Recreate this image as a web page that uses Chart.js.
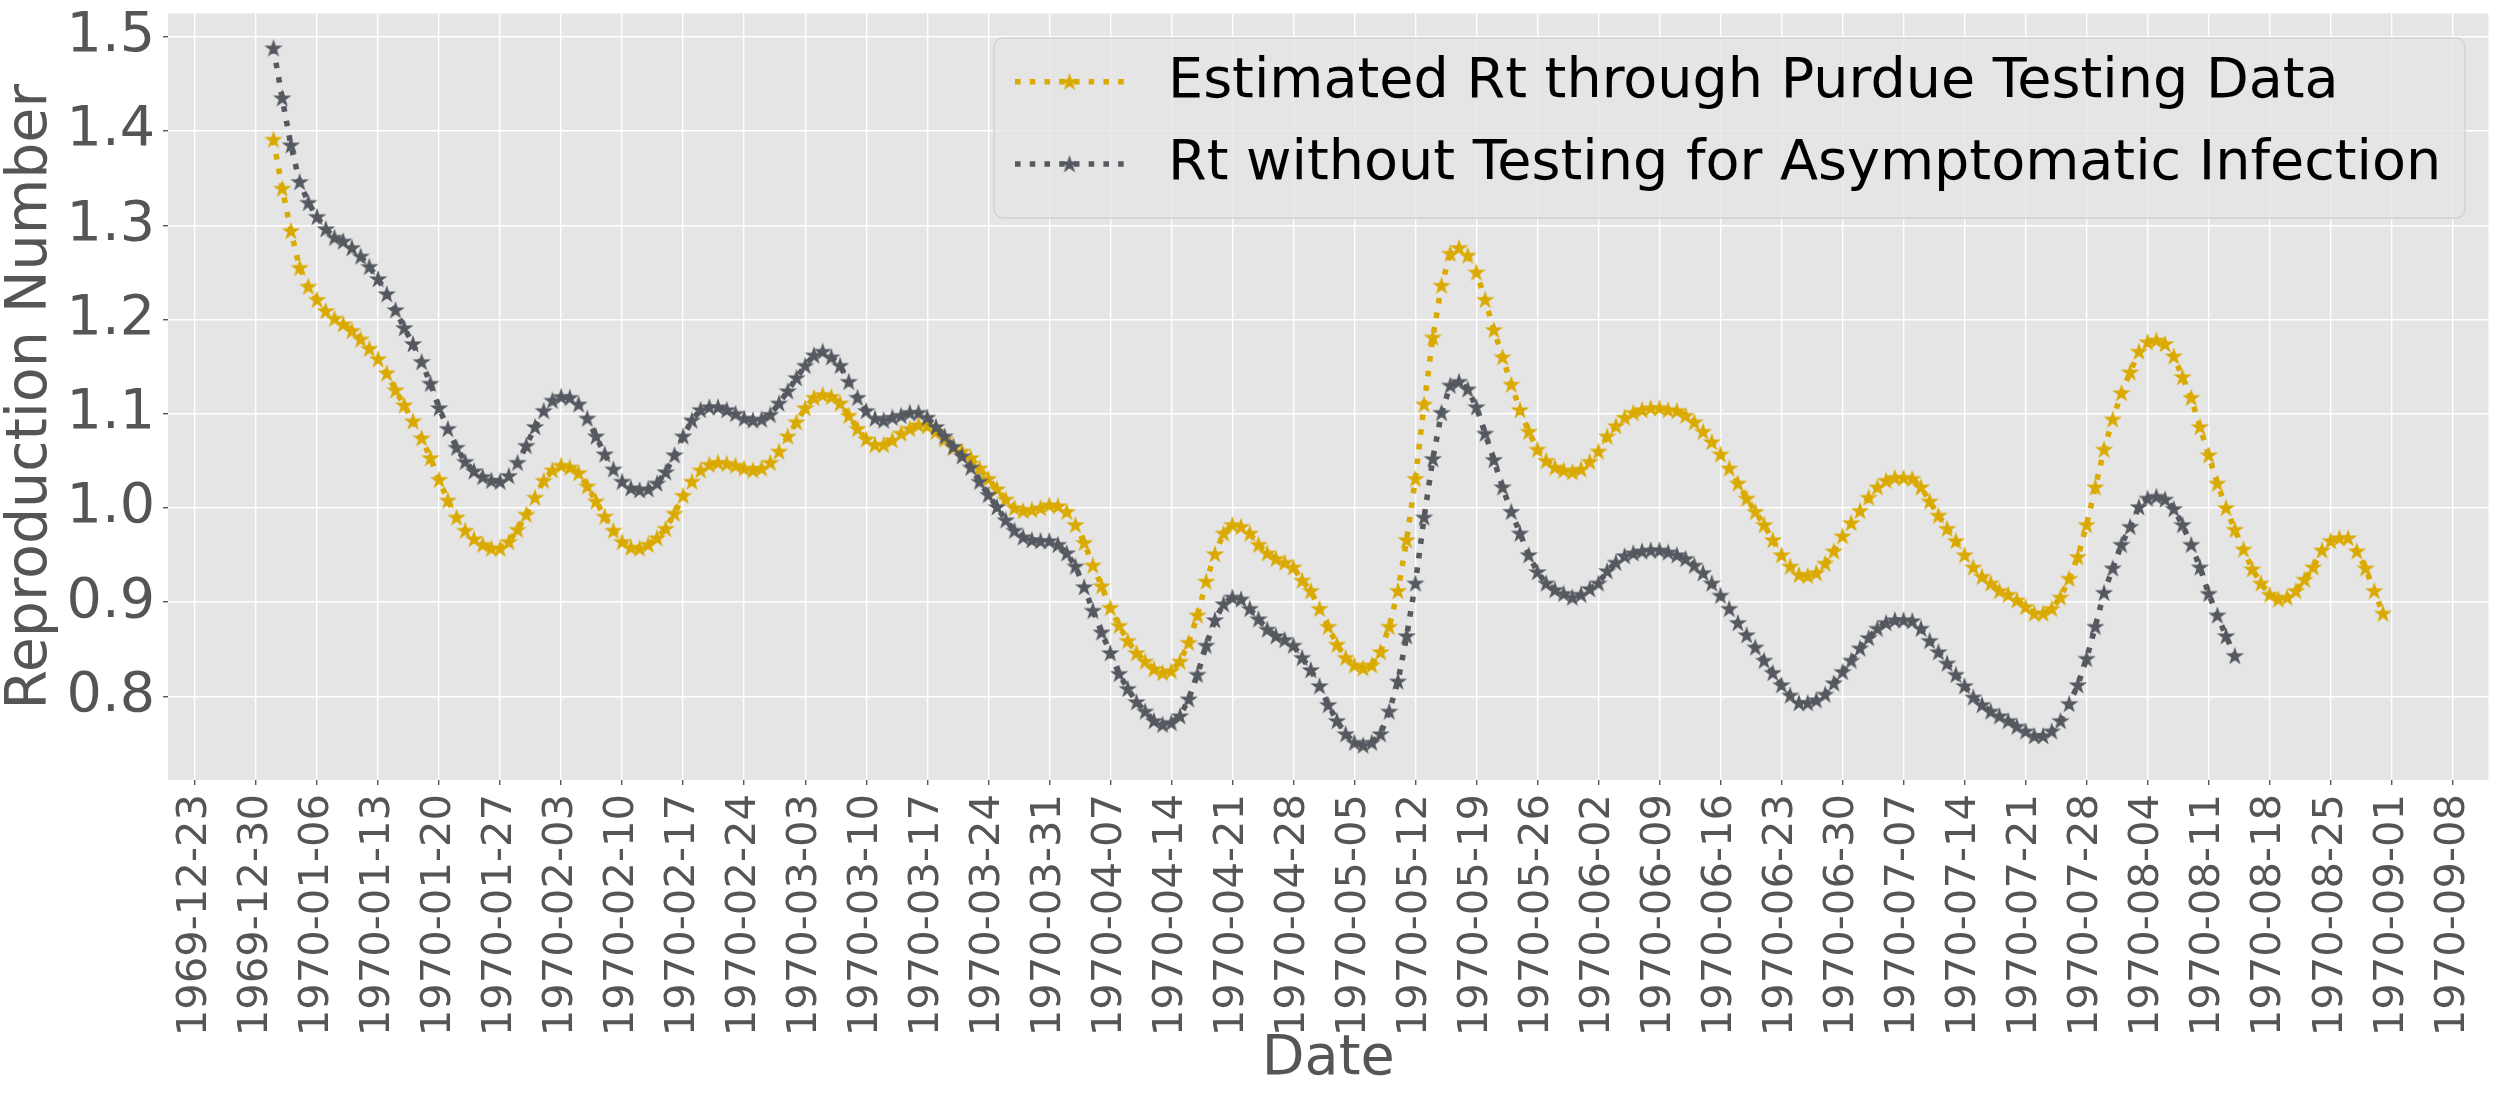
<!DOCTYPE html>
<html>
<head>
<meta charset="utf-8">
<script src="https://cdn.jsdelivr.net/npm/chart.js@4.4.1/dist/chart.umd.min.js"></script>
<style>
  html, body { margin: 0; padding: 0; background: #ffffff; }
  #wrap { width: 2502px; height: 1101px; }
</style>
</head>
<body>
<div id="wrap"><canvas id="c" width="2502" height="1101" style="width:2502px;height:1101px"></canvas></div>
<script>
// ---- data (day index 0 = 1970-01-01) ----
const startDate = '1970-01-01';

const seriesNames = [
  'Estimated Rt through Purdue Testing Data',
  'Rt without Testing for Asymptomatic Infection'
];

const purdueRt = [
  1.391, 1.339, 1.294, 1.255, 1.235, 1.221, 1.209, 1.201, 1.195, 1.188,
  1.179, 1.169, 1.158, 1.143, 1.125, 1.109, 1.092, 1.074, 1.053, 1.030,
  1.008, 0.990, 0.976, 0.967, 0.961, 0.957, 0.957, 0.964, 0.977, 0.993,
  1.011, 1.029, 1.040, 1.045, 1.043, 1.037, 1.023, 1.007, 0.991, 0.976,
  0.964, 0.958, 0.957, 0.961, 0.968, 0.978, 0.994, 1.013, 1.028, 1.040,
  1.046, 1.048, 1.047, 1.045, 1.042, 1.040, 1.042, 1.048, 1.060, 1.076,
  1.091, 1.106, 1.117, 1.120, 1.118, 1.111, 1.098, 1.084, 1.073, 1.067,
  1.067, 1.072, 1.079, 1.084, 1.088, 1.087, 1.081, 1.073, 1.064, 1.060,
  1.053, 1.042, 1.031, 1.020, 1.009, 1.000, 0.997, 0.998, 1.000, 1.003,
  1.002, 0.996, 0.982, 0.963, 0.939, 0.917, 0.894, 0.875, 0.859, 0.846,
  0.837, 0.829, 0.825, 0.827, 0.837, 0.857, 0.886, 0.922, 0.951, 0.973,
  0.982, 0.980, 0.973, 0.961, 0.952, 0.946, 0.942, 0.937, 0.923, 0.912,
  0.893, 0.874, 0.855, 0.841, 0.833, 0.830, 0.833, 0.847, 0.874, 0.912,
  0.966, 1.031, 1.110, 1.181, 1.236, 1.270, 1.276, 1.268, 1.250, 1.221,
  1.189, 1.160, 1.131, 1.104, 1.081, 1.062, 1.050, 1.043, 1.040, 1.038,
  1.041, 1.049, 1.060, 1.076, 1.087, 1.096, 1.101, 1.104, 1.106, 1.106,
  1.104, 1.103, 1.098, 1.091, 1.081, 1.070, 1.057, 1.042, 1.026, 1.010,
  0.996, 0.982, 0.966, 0.950, 0.938, 0.929, 0.928, 0.931, 0.941, 0.954,
  0.970, 0.984, 0.997, 1.011, 1.022, 1.029, 1.032, 1.032, 1.031, 1.022,
  1.007, 0.992, 0.978, 0.965, 0.950, 0.937, 0.927, 0.920, 0.912, 0.908,
  0.902, 0.895, 0.888, 0.888, 0.893, 0.905, 0.925, 0.948, 0.982, 1.022,
  1.062, 1.094, 1.122, 1.144, 1.166, 1.176, 1.178, 1.174, 1.161, 1.139,
  1.117, 1.086, 1.056, 1.026, 1.000, 0.977, 0.956, 0.935, 0.920, 0.908,
  0.903, 0.905, 0.912, 0.924, 0.937, 0.955, 0.965, 0.968, 0.968, 0.954,
  0.936, 0.912, 0.888
];

const noTestingRt = [
  1.488, 1.435, 1.385, 1.346, 1.324, 1.309, 1.296, 1.287, 1.283, 1.276,
  1.267, 1.256, 1.243, 1.227, 1.210, 1.191, 1.174, 1.155, 1.132, 1.106,
  1.084, 1.064, 1.049, 1.039, 1.033, 1.029, 1.028, 1.034, 1.048, 1.066,
  1.086, 1.103, 1.114, 1.118, 1.117, 1.110, 1.095, 1.076, 1.057, 1.041,
  1.028, 1.021, 1.019, 1.020, 1.026, 1.038, 1.056, 1.076, 1.093, 1.104,
  1.107, 1.107, 1.104, 1.100, 1.095, 1.093, 1.094, 1.099, 1.111, 1.124,
  1.138, 1.151, 1.162, 1.166, 1.160, 1.151, 1.134, 1.117, 1.103, 1.095,
  1.093, 1.096, 1.098, 1.101, 1.101, 1.096, 1.086, 1.076, 1.065, 1.055,
  1.043, 1.028, 1.014, 1.001, 0.987, 0.976, 0.969, 0.966, 0.965, 0.965,
  0.961, 0.952, 0.938, 0.916, 0.891, 0.868, 0.846, 0.824, 0.808, 0.794,
  0.784, 0.774, 0.770, 0.772, 0.779, 0.797, 0.823, 0.854, 0.881, 0.898,
  0.905, 0.903, 0.893, 0.882, 0.871, 0.864, 0.860, 0.854, 0.841, 0.828,
  0.811, 0.791, 0.774, 0.760, 0.751, 0.748, 0.751, 0.760, 0.784, 0.816,
  0.864, 0.920, 0.990, 1.052, 1.101, 1.130, 1.134, 1.126, 1.107, 1.079,
  1.051, 1.022, 0.996, 0.973, 0.950, 0.932, 0.920, 0.913, 0.909, 0.905,
  0.908, 0.914, 0.920, 0.933, 0.942, 0.949, 0.952, 0.954, 0.955, 0.955,
  0.953, 0.950, 0.946, 0.939, 0.931, 0.920, 0.907, 0.893, 0.878, 0.865,
  0.852, 0.838, 0.825, 0.812, 0.801, 0.793, 0.793, 0.796, 0.802, 0.814,
  0.826, 0.838, 0.851, 0.862, 0.872, 0.878, 0.881, 0.881, 0.880, 0.872,
  0.859, 0.847, 0.835, 0.823, 0.811, 0.799, 0.791, 0.784, 0.779, 0.774,
  0.768, 0.763, 0.758, 0.758, 0.763, 0.774, 0.792, 0.812, 0.840, 0.874,
  0.910, 0.936, 0.961, 0.980, 1.001, 1.010, 1.012, 1.009, 0.999, 0.982,
  0.961, 0.937, 0.909, 0.886, 0.864, 0.843
];

const xTickLabels = [
  '1969-12-23', '1969-12-30', '1970-01-06', '1970-01-13', '1970-01-20', '1970-01-27',
  '1970-02-03', '1970-02-10', '1970-02-17', '1970-02-24', '1970-03-03', '1970-03-10',
  '1970-03-17', '1970-03-24', '1970-03-31', '1970-04-07', '1970-04-14', '1970-04-21',
  '1970-04-28', '1970-05-05', '1970-05-12', '1970-05-19', '1970-05-26', '1970-06-02',
  '1970-06-09', '1970-06-16', '1970-06-23', '1970-06-30', '1970-07-07', '1970-07-14',
  '1970-07-21', '1970-07-28', '1970-08-04', '1970-08-11', '1970-08-18', '1970-08-25',
  '1970-09-01', '1970-09-08'
];

const yTickValues = [0.8, 0.9, 1.0, 1.1, 1.2, 1.3, 1.4, 1.5];

const seriesColors = ['#DAAA00', '#555960'];

// ---- helpers ----
const DAY = 86400000;
const t0 = Date.parse(startDate + 'T00:00:00Z');
const dayOf = s => Math.round((Date.parse(s + 'T00:00:00Z') - t0) / DAY);
const xTickDays = xTickLabels.map(dayOf);
const toPoints = arr => arr.map((v, i) => ({ x: i, y: v }));

function makeStar(color) {
  const size = 22;
  const c = document.createElement('canvas');
  c.width = size; c.height = size;
  const g = c.getContext('2d');
  const R = 7.4, r = R * 0.381966, cx = size / 2, cy = size / 2 + 0.6;
  g.beginPath();
  for (let k = 0; k < 10; k++) {
    const rad = k % 2 === 0 ? R : r;
    const a = -Math.PI / 2 + k * Math.PI / 5;
    const px = cx + rad * Math.cos(a), py = cy + rad * Math.sin(a);
    if (k === 0) g.moveTo(px, py); else g.lineTo(px, py);
  }
  g.closePath();
  g.fillStyle = color; g.fill();
  g.lineWidth = 1.4; g.strokeStyle = color; g.lineJoin = 'miter'; g.stroke();
  return c;
}
const stars = seriesColors.map(makeStar);

const FONT = 'DejaVu Sans';
const LW = 5.56;
const DASH = [LW * 1.0, LW * 1.65];

const PLOT = { left: 168, right: 2491, top: 11, bottom: 780 };
const W = 2502, H = 1101;

const bgPlugin = {
  id: 'bg',
  beforeDraw(chart) {
    const { ctx, chartArea: a } = chart;
    ctx.save();
    ctx.fillStyle = '#ffffff';
    ctx.fillRect(0, 0, chart.width, chart.height);
    ctx.fillStyle = '#E5E5E5';
    ctx.fillRect(a.left, a.top, a.right - a.left, a.bottom - a.top);
    ctx.restore();
  }
};

const legendPlugin = {
  id: 'mplLegend',
  afterDraw(chart) {
    const ctx = chart.ctx;
    const box = { x: 994, y: 38, w: 1471, h: 180, r: 9 };
    ctx.save();
    ctx.beginPath();
    ctx.roundRect(box.x, box.y, box.w, box.h, box.r);
    ctx.fillStyle = 'rgba(229,229,229,0.8)';
    ctx.fill();
    ctx.lineWidth = 1.4;
    ctx.strokeStyle = 'rgba(204,204,204,0.8)';
    ctx.stroke();
    chart.data.datasets.forEach((ds, i) => {
      const y = 81.7 + i * 82.3;
      ctx.save();
      ctx.beginPath();
      ctx.setLineDash(ds.borderDash);
      ctx.lineCap = 'butt';
      ctx.lineWidth = ds.borderWidth;
      ctx.strokeStyle = ds.borderColor;
      ctx.moveTo(1015, y);
      ctx.lineTo(1124, y);
      ctx.stroke();
      ctx.restore();
      const img = ds.pointStyle;
      ctx.drawImage(img, 1069.5 - img.width / 2, y - img.height / 2);
      ctx.fillStyle = '#000000';
      ctx.font = '55.6px "' + FONT + '"';
      ctx.textAlign = 'left';
      ctx.textBaseline = 'middle';
      ctx.fillText(ds.label, 1168, y + 1);
    });
    ctx.restore();
  }
};

const datasets = [purdueRt, noTestingRt].map((arr, i) => ({
  label: seriesNames[i],
  data: toPoints(arr),
  borderColor: seriesColors[i],
  backgroundColor: seriesColors[i],
  borderWidth: LW,
  borderDash: DASH,
  borderCapStyle: 'butt',
  tension: 0,
  fill: false,
  pointStyle: stars[i],
  pointRadius: 8,
  pointHoverRadius: 8,
  order: i === 0 ? 1 : 0
}));

new Chart(document.getElementById('c'), {
  type: 'line',
  data: { datasets },
  plugins: [bgPlugin, legendPlugin],
  options: {
    responsive: false,
    animation: false,
    devicePixelRatio: 1,
    layout: { padding: { left: 0, top: PLOT.top, right: W - PLOT.right, bottom: 0 } },
    plugins: { legend: { display: false }, tooltip: { enabled: false } },
    scales: {
      x: {
        type: 'linear',
        min: -12.1,
        max: 254.1,
        afterBuildTicks: s => { s.ticks = xTickDays.map(v => ({ value: v })); },
        afterFit: s => { s.height = H - PLOT.bottom; s.paddingLeft = 0; s.paddingRight = 0; },
        ticks: {
          autoSkip: false,
          minRotation: 90,
          maxRotation: 90,
          padding: 9,
          color: '#555555',
          font: { family: FONT, size: 41.7 },
          callback: (v, i) => xTickLabels[i]
        },
        grid: { color: '#ffffff', lineWidth: 1.4, tickColor: '#555555', tickLength: 5, tickWidth: 1.4 },
        border: { display: false },
        title: {
          display: true, text: 'Date', color: '#555555',
          font: { family: FONT, size: 55.6, lineHeight: 1.2 },
          padding: { top: 0, bottom: 8 }
        }
      },
      y: {
        type: 'linear',
        min: 0.7112,
        max: 1.5247,
        afterBuildTicks: s => { s.ticks = yTickValues.map(v => ({ value: v })); },
        afterFit: s => { s.width = PLOT.left; s.paddingTop = 0; s.paddingBottom = 0; },
        ticks: {
          padding: 8,
          color: '#555555',
          font: { family: FONT, size: 55.6 },
          callback: v => v.toFixed(1)
        },
        grid: { color: '#ffffff', lineWidth: 1.4, tickColor: '#555555', tickLength: 5, tickWidth: 1.4 },
        border: { display: false },
        title: {
          display: true, text: 'Reproduction Number', color: '#555555',
          font: { family: FONT, size: 57, lineHeight: 1.1 },
          padding: 0
        }
      }
    }
  }
});
</script>
</body>
</html>
